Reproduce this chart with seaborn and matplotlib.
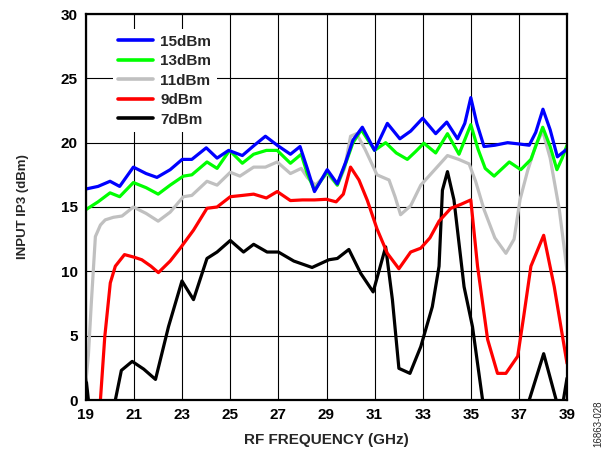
import numpy as np
import pandas as pd
import matplotlib
matplotlib.use("Agg")
import matplotlib.pyplot as plt
import seaborn as sns

# ---- data ----
f15 = [19.0, 19.5, 20.0, 20.4, 20.97, 21.5, 21.95, 22.5, 23.0, 23.4, 24.0, 24.45, 24.93, 25.5, 26.0,
       26.46, 26.95, 27.5, 27.9, 28.2, 28.5, 29.03, 29.45, 29.8, 30.1, 30.49, 31.0, 31.53, 32.05, 32.5,
       33.0, 33.54, 34.0, 34.45, 34.75, 35.0, 35.25, 35.55, 36.0, 36.53, 37.0, 37.43, 37.7, 38.0, 38.3,
       38.6, 39.0]
v15 = [16.4, 16.6, 17.0, 16.6, 18.1, 17.6, 17.3, 17.9, 18.7, 18.7, 19.6, 18.8, 19.4, 19.0, 19.8,
       20.5, 19.8, 19.1, 19.7, 18.0, 16.2, 17.9, 16.8, 18.5, 20.2, 21.2, 19.4, 21.5, 20.3, 20.9,
       21.9, 20.7, 21.6, 20.3, 21.5, 23.5, 21.5, 19.7, 19.8, 20.0, 19.9, 19.8, 20.8, 22.6, 21.0,
       18.9, 19.5]

f13 = [19.0, 19.5, 20.0, 20.4, 20.97, 21.5, 22.0, 22.5, 23.05, 23.4, 24.03, 24.45, 24.97, 25.5, 25.97,
       26.5, 26.95, 27.5, 27.95, 28.2, 28.5, 29.03, 29.45, 29.8, 30.1, 30.45, 31.0, 31.46, 31.9, 32.36,
       32.7, 33.05, 33.54, 34.03, 34.51, 35.0, 35.3, 35.6, 35.97, 36.6, 37.08, 37.5, 37.99, 38.3, 38.58,
       38.8, 39.0]
v13 = [14.8, 15.4, 16.1, 15.8, 16.9, 16.5, 16.0, 16.7, 17.4, 17.5, 18.5, 18.0, 19.4, 18.4, 19.1,
       19.4, 19.4, 18.4, 19.1, 17.6, 16.3, 17.75, 16.7, 18.4, 20.0, 21.0, 19.4, 20.0, 19.2, 18.7,
       19.3, 19.96, 19.2, 20.7, 19.1, 21.4, 19.5, 18.0, 17.4, 18.5, 17.9, 18.7, 21.2, 19.7, 17.9,
       18.8, 19.8]

f11 = [19.0, 19.1, 19.22, 19.39, 19.6, 19.8, 20.14, 20.5, 20.97, 21.5, 22.0, 22.5, 23.05, 23.4, 24.03,
       24.45, 25.0, 25.4, 25.97, 26.46, 26.95, 27.5, 27.95, 28.2, 28.54, 29.03, 29.45, 29.75, 30.0, 30.25,
       30.6, 31.1, 31.6, 31.85, 32.08, 32.5, 32.92, 33.5, 34.03, 34.5, 34.93, 35.2, 35.55, 36.0, 36.46,
       36.8, 37.05, 37.36, 37.7, 37.99, 38.3, 38.68, 39.0]
v11 = [1.5, 3.5, 7.5, 12.7, 13.6, 14.0, 14.2, 14.3, 15.0, 14.5, 13.9, 14.6, 15.8, 15.9, 17.0,
       16.7, 17.7, 17.4, 18.1, 18.1, 18.5, 17.6, 18.0, 17.3, 16.7, 17.6, 16.7, 18.0, 20.5, 20.7,
       19.5, 17.5, 17.1, 15.8, 14.4, 15.1, 16.7, 17.9, 19.0, 18.7, 18.35, 17.0, 14.8, 12.6, 11.4,
       12.5, 15.6, 17.8, 19.8, 20.9, 18.8, 14.8, 10.1]

f9 = [19.0, 19.4, 19.6, 19.78, 20.01, 20.22, 20.6, 21.0, 21.32, 21.7, 22.01, 22.5, 22.92, 23.47, 24.03,
      24.45, 25.0, 25.5, 25.97, 26.5, 26.95, 27.5, 28.0, 28.5, 29.0, 29.4, 29.7, 30.0, 30.35, 30.7,
      31.1, 31.53, 32.01, 32.5, 32.92, 33.3, 33.68, 34.17, 34.58, 35.0, 35.28, 35.7, 36.11, 36.46, 36.95,
      37.2, 37.5, 38.03, 38.47, 39.0]
v9 = [-6.0, -2.0, 0.0, 4.9, 9.1, 10.4, 11.3, 11.1, 10.9, 10.4, 9.9, 10.8, 11.8, 13.2, 14.9,
      15.0, 15.8, 15.9, 16.0, 15.7, 16.2, 15.5, 15.55, 15.55, 15.6, 15.4, 16.0, 18.1, 17.1, 15.5,
      13.3, 11.4, 10.2, 11.5, 11.8, 12.6, 13.9, 14.9, 15.2, 15.55, 10.4, 4.7, 2.07, 2.07, 3.4,
      6.5, 10.4, 12.8, 8.8, 2.85]

f7 = [19.0, 19.1, 19.4, 19.8, 20.22, 20.47, 20.92, 21.4, 21.89, 22.43, 22.99, 23.47, 24.03, 24.45, 25.0,
      25.55, 25.97, 26.53, 27.0, 27.64, 28.4, 29.1, 29.45, 29.93, 30.42, 30.94, 31.46, 31.74, 32.01, 32.47,
      32.92, 33.4, 33.68, 33.82, 34.03, 34.3, 34.72, 35.07, 35.49, 36.0, 36.5, 37.0, 37.43, 38.03, 38.55,
      38.7, 38.85, 39.0]
v7 = [1.7, 0.0, -3.0, -4.0, 0.0, 2.3, 3.0, 2.4, 1.6, 5.7, 9.25, 7.8, 11.0, 11.5, 12.4,
      11.5, 12.1, 11.5, 11.5, 10.8, 10.3, 10.9, 11.0, 11.7, 9.85, 8.4, 11.9, 7.8, 2.46, 2.07,
      4.15, 7.25, 10.4, 16.3, 17.75, 15.55, 8.8, 5.7, 0.0, -4.0, -6.0, -4.0, 0.0, 3.6, 0.0,
      -1.0, 0.0, 1.7]

labels = ["15dBm", "13dBm", "11dBm", "9dBm", "7dBm"]
colors = ["#0000FF", "#00FF00", "#C0C0C0", "#FF0000", "#000000"]
xticks = [19, 21, 23, 25, 27, 29, 31, 33, 35, 37, 39]
yticks = [0, 5, 10, 15, 20, 25, 30]

series = {
    "15dBm": (f15, v15),
    "13dBm": (f13, v13),
    "11dBm": (f11, v11),
    "9dBm": (f9, v9),
    "7dBm": (f7, v7),
}

frames = []
for name, (fx, vy) in series.items():
    frames.append(pd.DataFrame({"freq": fx, "ip3": vy, "series": name}))
df = pd.concat(frames, ignore_index=True)

sns.set_style("white")
plt.rcParams["font.family"] = ["Liberation Sans", "DejaVu Sans"]
plt.rcParams["font.weight"] = "bold"

fig = plt.figure(figsize=(6.13, 4.5), dpi=100)
ax = fig.add_axes([86 / 613, 50 / 450, 481 / 613, 386 / 450])

palette = dict(zip(labels, colors))
# draw from lowest to highest so blue ends on top
for name in reversed(labels):
    sub = df[df["series"] == name]
    sns.lineplot(data=sub, x="freq", y="ip3", color=palette[name], linewidth=2.3,
                 estimator=None, sort=False, ax=ax, legend=False, zorder=3,
                 solid_joinstyle="round", solid_capstyle="round")

ax.set_xlim(19, 39)
ax.set_ylim(0, 30)
ax.set_xticks(xticks)
ax.set_yticks(yticks)
ax.set_xticklabels([str(t) for t in xticks], fontsize=11, fontweight="bold")
ax.set_yticklabels([str(t) for t in yticks], fontsize=11, fontweight="bold")
ax.tick_params(axis="both", length=0, pad=6, colors="black")
ax.grid(True, color="black", linewidth=0.8, zorder=1)
ax.set_axisbelow(True)
for sp in ax.spines.values():
    sp.set_visible(True)
    sp.set_color("black")
    sp.set_linewidth(1.6)
    sp.set_zorder(5)

ax.set_xlabel("RF FREQUENCY (GHz)", fontsize=11, fontweight="bold", labelpad=8)
ax.set_ylabel("INPUT IP3 (dBm)", fontsize=9.5, fontweight="bold", labelpad=23)

handles = [plt.Line2D([], [], color=c, linewidth=2.6) for c in colors]
leg = ax.legend(handles, labels, loc="upper left", bbox_to_anchor=(0.04, 0.98),
                frameon=True, fancybox=False, framealpha=1, facecolor="white",
                edgecolor="none", prop={"size": 11, "weight": "bold"},
                handlelength=2.3, handletextpad=0.45, labelspacing=0.36, borderpad=0.35)
leg.set_zorder(6)

fig.text(598 / 613, 1 - 424 / 450, "16863-028", rotation=90, fontsize=7,
         fontweight="normal", ha="center", va="center")

fig.savefig("out.png", dpi=100)
